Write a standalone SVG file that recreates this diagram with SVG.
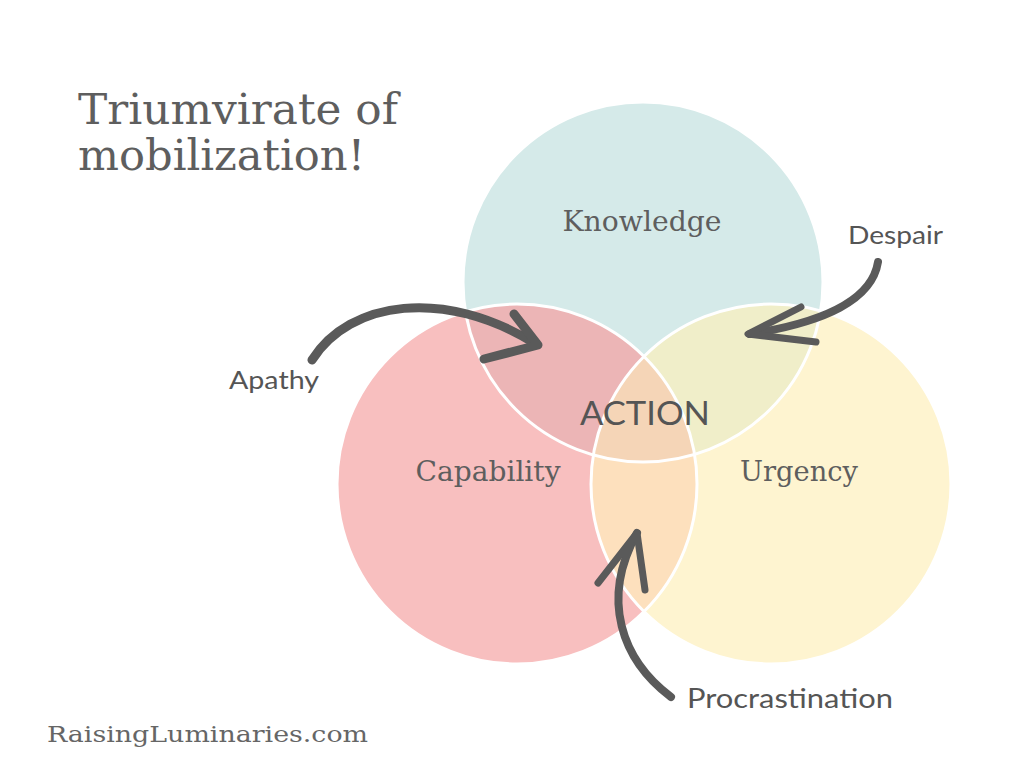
<svg xmlns="http://www.w3.org/2000/svg" width="1024" height="768" viewBox="0 0 1024 768">
<style>
.serif{font-family:"DejaVu Serif","Liberation Serif",serif;fill:#5e5e5e}
.hand{font-family:Lato,"Open Sans","DejaVu Sans",sans-serif;fill:#555555}
.ring{fill:none;stroke:#ffffff;stroke-width:3}
.brush{fill:none;stroke:#5a5a5a;stroke-linecap:round;stroke-linejoin:round}
</style>
<defs>
<clipPath id="clipK"><circle cx="643" cy="282" r="180"/></clipPath>
<clipPath id="clipC"><circle cx="517" cy="484" r="180"/></clipPath>
</defs>
<rect width="1024" height="768" fill="#ffffff"/>
<text class="serif" x="78" y="124" font-size="43" textLength="320" lengthAdjust="spacingAndGlyphs">Triumvirate of</text>
<text class="serif" x="78" y="170" font-size="43" textLength="287" lengthAdjust="spacingAndGlyphs">mobilization!</text>

<g id="circles">
<circle id="knowledge-fill" cx="643" cy="282" r="180" fill="#d5eae9"/>
<circle id="capability-fill" cx="517" cy="484" r="180" fill="#f8bfbf"/>
<circle id="urgency-fill" cx="771" cy="484" r="180" fill="#fef4d0"/>
<circle cx="517" cy="484" r="180" fill="#ecb5b6" clip-path="url(#clipK)"/>
<circle cx="771" cy="484" r="180" fill="#f0eec9" clip-path="url(#clipK)"/>
<circle cx="771" cy="484" r="180" fill="#fde0bd" clip-path="url(#clipC)"/>
<g clip-path="url(#clipK)"><circle cx="771" cy="484" r="180" fill="#f5d5b7" clip-path="url(#clipC)"/></g>
<circle class="ring" cx="643" cy="282" r="180"/>
<circle class="ring" cx="517" cy="484" r="180"/>
<circle class="ring" cx="771" cy="484" r="180"/>
</g>

<g id="knowledge"><text class="serif" x="642" y="231" font-size="28" text-anchor="middle" textLength="159" lengthAdjust="spacingAndGlyphs">Knowledge</text></g>
<g id="capability"><text class="serif" x="488" y="481" font-size="28" text-anchor="middle" textLength="145" lengthAdjust="spacingAndGlyphs">Capability</text></g>
<g id="urgency"><text class="serif" x="799" y="481" font-size="28" text-anchor="middle" textLength="118" lengthAdjust="spacingAndGlyphs">Urgency</text></g>
<g id="action"><text class="hand" x="580" y="425" font-size="33" textLength="130" lengthAdjust="spacingAndGlyphs">ACTION</text></g>

<g id="connectors">
<path class="brush" stroke-width="9" d="M312,360 C350,300 445,288 534,343"/>
<path class="brush" stroke-width="9" d="M514,314 L538,345 L484,359"/>
<path class="brush" stroke-width="8" d="M878,262 C872,300 825,322 750,334"/>
<path class="brush" stroke-width="7" d="M801,307 L748,334 L816,342"/>
<path class="brush" stroke-width="8" d="M671,697 C622,660 600,600 637,533"/>
<path class="brush" stroke-width="7" d="M598,583 L637,533 L645,590"/>
</g>

<g id="apathy"><text class="hand" x="229" y="389" font-size="25" textLength="90" lengthAdjust="spacingAndGlyphs">Apathy</text></g>
<g id="despair"><text class="hand" x="848" y="244" font-size="25" textLength="95" lengthAdjust="spacingAndGlyphs">Despair</text></g>
<g id="procrastination"><text class="hand" x="687" y="708" font-size="26" textLength="206" lengthAdjust="spacingAndGlyphs">Procrastination</text></g>

<text class="serif" x="47" y="742" font-size="22" fill="#666666" textLength="321" lengthAdjust="spacingAndGlyphs" style="fill:#666666">RaisingLuminaries.com</text>
</svg>
